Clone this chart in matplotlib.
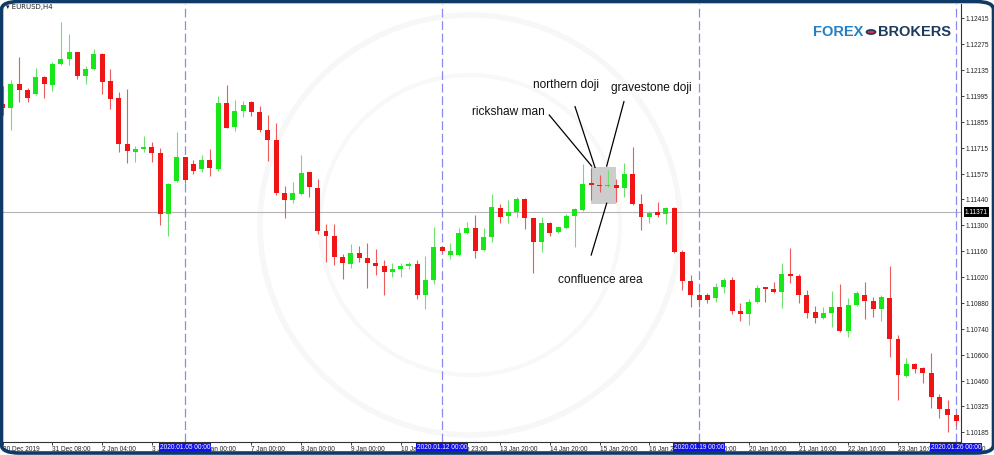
import matplotlib
matplotlib.use("Agg")
import matplotlib.pyplot as plt
import matplotlib.patches as patches
import matplotlib.transforms as mtransforms

# EURUSD H4 candles
opens = [1.11955, 1.11934, 1.12060, 1.12029, 1.12007, 1.12097, 1.12056, 1.12169, 1.12196, 1.12232,
         1.12106, 1.12142, 1.12221, 1.12079, 1.11987, 1.11738, 1.11697, 1.11710, 1.11724, 1.11691,
         1.11359, 1.11539, 1.11666, 1.11630, 1.11603, 1.11652, 1.11603, 1.11960, 1.11831, 1.11917,
         1.11966, 1.11912, 1.11813, 1.11760, 1.11476, 1.11436, 1.11469, 1.11586, 1.11499, 1.11271,
         1.11243, 1.11131, 1.11092, 1.11149, 1.11122, 1.11095, 1.11081, 1.11050, 1.11066, 1.11081,
         1.11090, 1.10925, 1.11006, 1.11185, 1.11140, 1.11140, 1.11257, 1.11287, 1.11167, 1.11235,
         1.11395, 1.11352, 1.11373, 1.11442, 1.11338, 1.11212, 1.11311, 1.11266, 1.11287, 1.11352,
         1.11383, 1.11526, 1.11517, 1.11513, 1.11516, 1.11503, 1.11575, 1.11415, 1.11346, 1.11373,
         1.11361, 1.11392, 1.11158, 1.11002, 1.10925, 1.10925, 1.10910, 1.10969, 1.11006, 1.10840,
         1.10821, 1.10889, 1.10969, 1.10957, 1.10939, 1.11038, 1.11029, 1.10925, 1.10832, 1.10802,
         1.10829, 1.10862, 1.10732, 1.10871, 1.10925, 1.10894, 1.10849, 1.10910, 1.10688, 1.10490,
         1.10551, 1.10530, 1.10503, 1.10374, 1.10309, 1.10278]
highs = [1.12052, 1.12083, 1.12208, 1.12038, 1.12149, 1.12104, 1.12181, 1.12393, 1.12329, 1.12235,
         1.12158, 1.12248, 1.12227, 1.12142, 1.12020, 1.12034, 1.11729, 1.11783, 1.11750, 1.11715,
         1.11526, 1.11801, 1.11669, 1.11652, 1.11679, 1.11711, 1.11997, 1.12056, 1.11975, 1.11971,
         1.11971, 1.11943, 1.11894, 1.11850, 1.11512, 1.11535, 1.11679, 1.11589, 1.11548, 1.11307,
         1.11307, 1.11146, 1.11199, 1.11189, 1.11203, 1.11171, 1.11113, 1.11095, 1.11099, 1.11104,
         1.11113, 1.11135, 1.11293, 1.11189, 1.11203, 1.11284, 1.11320, 1.11356, 1.11284, 1.11469,
         1.11413, 1.11436, 1.11451, 1.11446, 1.11341, 1.11343, 1.11320, 1.11296, 1.11359, 1.11392,
         1.11629, 1.11607, 1.11571, 1.11598, 1.11548, 1.11637, 1.11724, 1.11469, 1.11379, 1.11427,
         1.11397, 1.11397, 1.11167, 1.11032, 1.10937, 1.10934, 1.10988, 1.11015, 1.11020, 1.10880,
         1.10902, 1.10979, 1.10969, 1.10996, 1.11099, 1.11176, 1.11036, 1.10952, 1.10867, 1.10862,
         1.10948, 1.10982, 1.10907, 1.10946, 1.10993, 1.10912, 1.10925, 1.11083, 1.10709, 1.10587,
         1.10560, 1.10535, 1.10611, 1.10392, 1.10359, 1.10291]
lows = [1.11894, 1.11813, 1.11963, 1.11963, 1.12002, 1.11987, 1.12023, 1.12164, 1.12164, 1.12086,
        1.12060, 1.12136, 1.12006, 1.11927, 1.11697, 1.11634, 1.11643, 1.11693, 1.11639, 1.11302,
        1.11244, 1.11535, 1.11526, 1.11575, 1.11589, 1.11567, 1.11593, 1.11823, 1.11808, 1.11882,
        1.11890, 1.11804, 1.11646, 1.11463, 1.11338, 1.11419, 1.11463, 1.11451, 1.11253, 1.11104,
        1.11086, 1.11009, 1.11069, 1.11104, 1.10961, 1.11032, 1.10925, 1.11023, 1.11020, 1.11063,
        1.10902, 1.10848, 1.10984, 1.11149, 1.11117, 1.11135, 1.11253, 1.11122, 1.11163, 1.11209,
        1.11311, 1.11311, 1.11346, 1.11279, 1.11042, 1.11158, 1.11243, 1.11260, 1.11279, 1.11185,
        1.11379, 1.11436, 1.11479, 1.11508, 1.11427, 1.11451, 1.11409, 1.11275, 1.11311, 1.11343,
        1.11307, 1.11153, 1.10952, 1.10862, 1.10862, 1.10883, 1.10889, 1.10937, 1.10822, 1.10786,
        1.10763, 1.10880, 1.10885, 1.10934, 1.10853, 1.10991, 1.10883, 1.10802, 1.10772, 1.10797,
        1.10751, 1.10724, 1.10700, 1.10865, 1.10794, 1.10805, 1.10786, 1.10592, 1.10359, 1.10485,
        1.10503, 1.10449, 1.10314, 1.10261, 1.10188, 1.10219]
closes = [1.11934, 1.12060, 1.12029, 1.11987, 1.12097, 1.12060, 1.12169, 1.12196, 1.12232, 1.12106,
          1.12142, 1.12221, 1.12074, 1.11980, 1.11738, 1.11700, 1.11710, 1.11724, 1.11691, 1.11359,
          1.11521, 1.11666, 1.11544, 1.11593, 1.11652, 1.11610, 1.11960, 1.11826, 1.11917, 1.11948,
          1.11912, 1.11813, 1.11760, 1.11472, 1.11436, 1.11472, 1.11583, 1.11505, 1.11271, 1.11244,
          1.11131, 1.11095, 1.11153, 1.11122, 1.11095, 1.11081, 1.11050, 1.11063, 1.11081, 1.11092,
          1.10925, 1.11006, 1.11185, 1.11163, 1.11163, 1.11257, 1.11287, 1.11163, 1.11239, 1.11397,
          1.11346, 1.11373, 1.11442, 1.11338, 1.11212, 1.11311, 1.11257, 1.11293, 1.11352, 1.11386,
          1.11523, 1.11517, 1.11513, 1.11517, 1.11503, 1.11575, 1.11415, 1.11343, 1.11365, 1.11356,
          1.11392, 1.11158, 1.11002, 1.10925, 1.10898, 1.10898, 1.10969, 1.11006, 1.10839, 1.10821,
          1.10889, 1.10964, 1.10955, 1.10939, 1.11036, 1.11027, 1.10925, 1.10826, 1.10802, 1.10826,
          1.10862, 1.10732, 1.10871, 1.10934, 1.10892, 1.10848, 1.10912, 1.10688, 1.10494, 1.10551,
          1.10526, 1.10503, 1.10374, 1.10309, 1.10278, 1.10246]

price_ticks = [1.12415, 1.12275, 1.12135, 1.11995, 1.11855, 1.11715, 1.11575, 1.11440, 1.11300,
               1.11160, 1.11020, 1.10880, 1.10740, 1.10600, 1.10460, 1.10325, 1.10185]
date_labels = ['30 Dec 2019', '31 Dec 08:00', '2 Jan 04:00', '3 Jan 04:00', '6 Jan 00:00',
               '7 Jan 00:00', '8 Jan 00:00', '9 Jan 00:00', '10 Jan 00:00', '12 Jan 23:00',
               '13 Jan 20:00', '14 Jan 20:00', '15 Jan 20:00', '16 Jan 20:00', '19 Jan 16:00',
               '20 Jan 16:00', '21 Jan 16:00', '22 Jan 16:00', '23 Jan 16:00', '26 Jan 16:00']
week_idx = [22, 53, 84, 115]
week_labels = ['2020.01.05 00:00', '2020.01.12 00:00', '2020.01.19 00:00', '2020.01.26 00:00']
last_price = 1.11371

GREEN = '#19e619'
RED = '#f01414'
GREEN_W = '#6fe06f'
RED_W = '#ee5a5a'

W, H = 995, 455
fig = plt.figure(figsize=(W / 100, H / 100), dpi=100)
fig.patch.set_facecolor('white')
ax = fig.add_axes([2 / W, 13 / H, 959 / W, 438 / H])

# faint background watermark rings (pixel coords of the picture)
wm = fig.add_axes([0, 0, 1, 1], zorder=-1)
wm.set_xlim(0, W)
wm.set_ylim(H, 0)
wm.axis('off')
wm.add_patch(patches.Circle((470, 225), 210, fill=False, edgecolor='#f7f7f7', lw=4))
wm.add_patch(patches.Circle((470, 225), 150, fill=False, edgecolor='#f8f8f8', lw=3))
ax.patch.set_alpha(0)

n = len(opens)
for i in range(n):
    o, h, l, c = opens[i], highs[i], lows[i], closes[i]
    up = c >= o
    ax.vlines(i, l, h, color=GREEN_W if up else RED_W, lw=0.8, zorder=3)
    bottom = min(o, c)
    height = max(abs(c - o), 0.000025)
    ax.bar(i, height, bottom=bottom, width=0.6, color=GREEN if up else RED,
           edgecolor='none', zorder=4)

# confluence box
ax.add_patch(patches.Rectangle((71, 1.11415), 3, 1.11616 - 1.11415,
                               facecolor='#cdcdcd', edgecolor='none', zorder=2))

# current price line + weekly separators
ax.axhline(last_price, color='#b4b4b4', lw=0.8, zorder=1)
for w in week_idx:
    ax.axvline(w, color='#8a8af0', lw=0.9, dashes=(7, 3), zorder=1)

# annotation lines and labels
ax.plot([65.93, 71.05], [1.11894, 1.11619], color='black', lw=0.9, zorder=6)
ax.plot([69.04, 71.45], [1.11939, 1.11612], color='black', lw=0.9, zorder=6)
ax.plot([74.94, 72.86], [1.11966, 1.11619], color='black', lw=0.9, zorder=6)
ax.plot([72.86, 70.99], [1.11419, 1.11140], color='black', lw=0.9, zorder=6)
afont = dict(fontsize=8.6, family='Liberation Sans', color='#111111', zorder=7)
ax.text(67.9, 1.12056, 'northern doji', ha='center', va='center', **afont)
ax.text(78.3, 1.12040, 'gravestone doji', ha='center', va='center', **afont)
ax.text(61.0, 1.11913, 'rickshaw man', ha='center', va='center', **afont)
ax.text(72.1, 1.11005, 'confluence area', ha='center', va='center', **afont)

ax.set_xlim(-0.084, 115.6)
ax.set_ylim(1.10133, 1.12492)

# axes styling (MT4-like)
for s in ['left', 'top']:
    ax.spines[s].set_visible(False)
for s in ['right', 'bottom']:
    ax.spines[s].set_color('#333333')
    ax.spines[s].set_linewidth(0.8)

ax.yaxis.tick_right()
ax.set_yticks(price_ticks)
ax.set_yticklabels([f'{p:.5f}' for p in price_ticks])
ax.tick_params(axis='y', length=2, width=0.6, pad=1.5, labelsize=4.7, colors='#222222')
ax.set_xticks(list(range(0, n, 6)))
ax.set_xticklabels(date_labels)
ax.tick_params(axis='x', length=2, width=0.6, pad=1.2, labelsize=4.7, colors='#222222')
for lab in ax.get_xticklabels():
    lab.set_horizontalalignment('left')
for lab in ax.get_xticklabels() + ax.get_yticklabels():
    lab.set_family('Liberation Sans')

# blue date boxes on the separators
tb = mtransforms.blended_transform_factory(ax.transData, ax.transAxes)
for w, t in zip(week_idx, week_labels):
    ax.text(w, -0.0125, t, transform=tb, ha='center', va='center', fontsize=4.7,
            family='Liberation Sans', color='white', clip_on=False, zorder=20,
            bbox=dict(boxstyle='square,pad=0.15', facecolor='#1010ee', edgecolor='none'))

# current price tag
tp = mtransforms.blended_transform_factory(ax.transAxes, ax.transData)
ax.text(1.004, last_price, f'{last_price:.5f}', transform=tp, ha='left', va='center',
        fontsize=4.7, family='Liberation Sans', color='white', clip_on=False, zorder=20,
        bbox=dict(boxstyle='square,pad=0.2', facecolor='black', edgecolor='none'))

# symbol caption
fig.text(6 / W, 1 - 6.5 / H, '\u25be EURUSD,H4', fontsize=5, family='DejaVu Sans',
         color='#222222', ha='left', va='center')

# logo
fig.text(863 / W, 1 - 32 / H, 'FOREX', fontsize=10.5, fontweight='bold',
         family='Liberation Sans', color='#2280c4', ha='right', va='center')
fig.text(878 / W, 1 - 32 / H, 'BROKERS', fontsize=10.5, fontweight='bold',
         family='Liberation Sans', color='#1c3a5e', ha='left', va='center')
fig.patches.append(patches.Circle((871 / W, 1 - 32 / H), 4.5 / W, transform=fig.transFigure,
                                  facecolor='#d8333f', edgecolor='#1c3a5e', lw=1.2))

# rounded screenshot frame
fig.patches.append(patches.FancyBboxPatch((1.5 / W, 2 / H), (W - 3) / W, (H - 3.5) / H,
                                          boxstyle='round,pad=0,rounding_size=0.018',
                                          transform=fig.transFigure, fill=False,
                                          edgecolor='#0e3a68', lw=2.6))

fig.savefig('out.png', dpi=100, facecolor='white')
